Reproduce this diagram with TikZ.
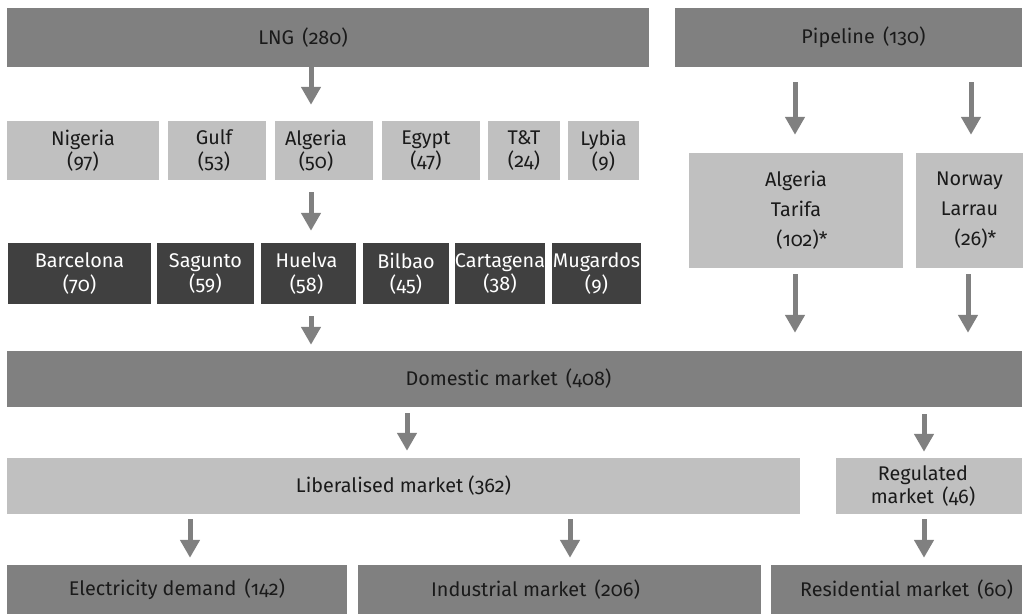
\documentclass[tikz,border=0pt]{standalone}
\usepackage{fontspec}
\setmainfont{Fira Sans}[Numbers=OldStyle]
\usetikzlibrary{arrows.meta}
\definecolor{midgray}{HTML}{808080}
\definecolor{lightgrayb}{HTML}{C0C0C0}
\definecolor{darkgrayb}{HTML}{404040}
\definecolor{txt}{HTML}{1A1A1A}
% #1 label style, #2 box style, #3 name, #4 x1, #5 x2, #6 y1, #7 y2, #8 dx, #9 text
\newcommand\mybox[9][lbl]{%
  \node[#2,minimum width={(#5-#4)*1pt},minimum height={(#7-#6)*1pt},
        label={[#1,xshift=#8pt]center:#9}] (#3) at ({(#4+#5)/2},{(#6+#7)/2}) {};}
\begin{document}
\begin{tikzpicture}[x=1pt,y=-1pt,
  box/.style={draw=none,inner sep=0pt},
  mid/.style={box,fill=midgray},
  light/.style={box,fill=lightgrayb},
  dark/.style={box,fill=darkgrayb},
  lbl/.style={font=\fontsize{19.8}{23.5}\selectfont,text=txt,align=center,inner sep=0pt},
  lblw/.style={lbl,text=white},
  arr/.style={draw=midgray,line width=5pt,-{Triangle[width=19pt,length=18pt]}},
]
\useasboundingbox (0,0) rectangle (1029,614);
% row 1
\mybox{mid}{lng}{7}{649}{8}{67}{-25}{LNG\hspace{0.15em} (280)}
\mybox{mid}{pipe}{675}{1022}{8}{67}{15}{Pipeline\hspace{0.15em} (130)}
% row 2
\mybox{light}{nig}{7}{159}{121}{180}{0}{Nigeria\\(97)}
\mybox{light}{gulf}{168}{266}{121}{180}{-3}{Gulf\\(53)}
\mybox{light}{alg}{275}{373}{121}{180}{-8}{Algeria\\(50)}
\mybox{light}{egy}{382}{480}{121}{180}{-5}{Egypt\\(47)}
\mybox{light}{tt}{488}{560}{121}{180}{0}{T\&T\\(24)}
\mybox{light}{lyb}{568}{639}{121}{180}{0}{Lybia\\(9)}
% row 3
\mybox[lblw]{dark}{bar}{8}{151}{243}{304}{0}{Barcelona\\(70)}
\mybox[lblw]{dark}{sag}{157}{254}{243}{304}{0}{Sagunto\\(59)}
\mybox[lblw]{dark}{hue}{261}{356}{243}{304}{-2}{Huelva\\(58)}
\mybox[lblw]{dark}{bil}{363}{449}{243}{304}{0}{Bilbao\\(45)}
\mybox[lblw]{dark}{car}{455}{545}{243}{304}{0}{Cartagena\\(38)}
\mybox[lblw]{dark}{mug}{552}{641}{243}{304}{0}{Mugardos\\(9)}
% pipeline sources
\mybox{light}{tar}{689}{903}{153}{268}{0}{Algeria\\[6.5pt]Tarifa\\[6.5pt]\hspace*{12pt}(102)*}
\mybox{light}{lar}{916}{1023}{153}{268}{0}{Norway\\[6.5pt]Larrau\\[6.5pt]\hspace*{12pt}(26)*}
% domestic
\mybox{mid}{dom}{7}{1022}{351}{407}{-6}{Domestic market\hspace{0.15em} (408)}
% markets
\mybox{light}{lib}{7}{800}{458}{514}{0}{Liberalised market (362)}
\mybox{light}{reg}{836}{1022}{458}{514}{-6}{Regulated\\market\hspace{0.15em} (46)}
% bottom
\mybox{mid}{ele}{7}{347}{565}{614}{0}{Electricity demand\hspace{0.15em} (142)}
\mybox{mid}{ind}{358}{761}{565}{614}{-24}{Industrial market\hspace{0.15em} (206)}
\mybox{mid}{res}{771}{1022}{565}{614}{10}{Residential market\hspace{0.15em} (60)}
% arrows
\draw[arr] ([xshift=-17pt]lng.south) -- ([xshift=-13pt,yshift=16pt]alg.north);
\draw[arr] ([xshift=-13pt,yshift=-12pt]alg.south) -- ([xshift=2.5pt,yshift=12pt]hue.north);
\draw[arr] ([xshift=2.5pt,yshift=-12pt]hue.south) -- ([xshift=-203.5pt,yshift=6pt]dom.north);
\draw[arr] ([xshift=-53.5pt,yshift=-15pt]pipe.south) -- ([xshift=-1pt,yshift=18pt]tar.north);
\draw[arr] ([xshift=122.5pt,yshift=-15pt]pipe.south) -- ([xshift=1.5pt,yshift=18pt]lar.north);
\draw[arr] ([xshift=-1pt,yshift=-6pt]tar.south) -- ([xshift=280.5pt,yshift=18pt]dom.north);
\draw[arr] ([xshift=-1.5pt,yshift=-6pt]lar.south) -- ([xshift=453.5pt,yshift=18pt]dom.north);
\draw[arr] ([xshift=-107.5pt,yshift=-6pt]dom.south) -- ([xshift=3.5pt,yshift=7pt]lib.north);
\draw[arr] ([xshift=409.5pt,yshift=-7pt]dom.south) -- ([xshift=-5pt,yshift=6pt]reg.north);
\draw[arr] ([xshift=-213.5pt,yshift=-5pt]lib.south) -- ([xshift=13pt,yshift=7pt]ele.north);
\draw[arr] ([xshift=166.5pt,yshift=-5pt]lib.south) -- ([xshift=10.5pt,yshift=7pt]ind.north);
\draw[arr] ([xshift=-5pt,yshift=-5pt]reg.south) -- ([xshift=27.5pt,yshift=7pt]res.north);
\end{tikzpicture}
\end{document}
